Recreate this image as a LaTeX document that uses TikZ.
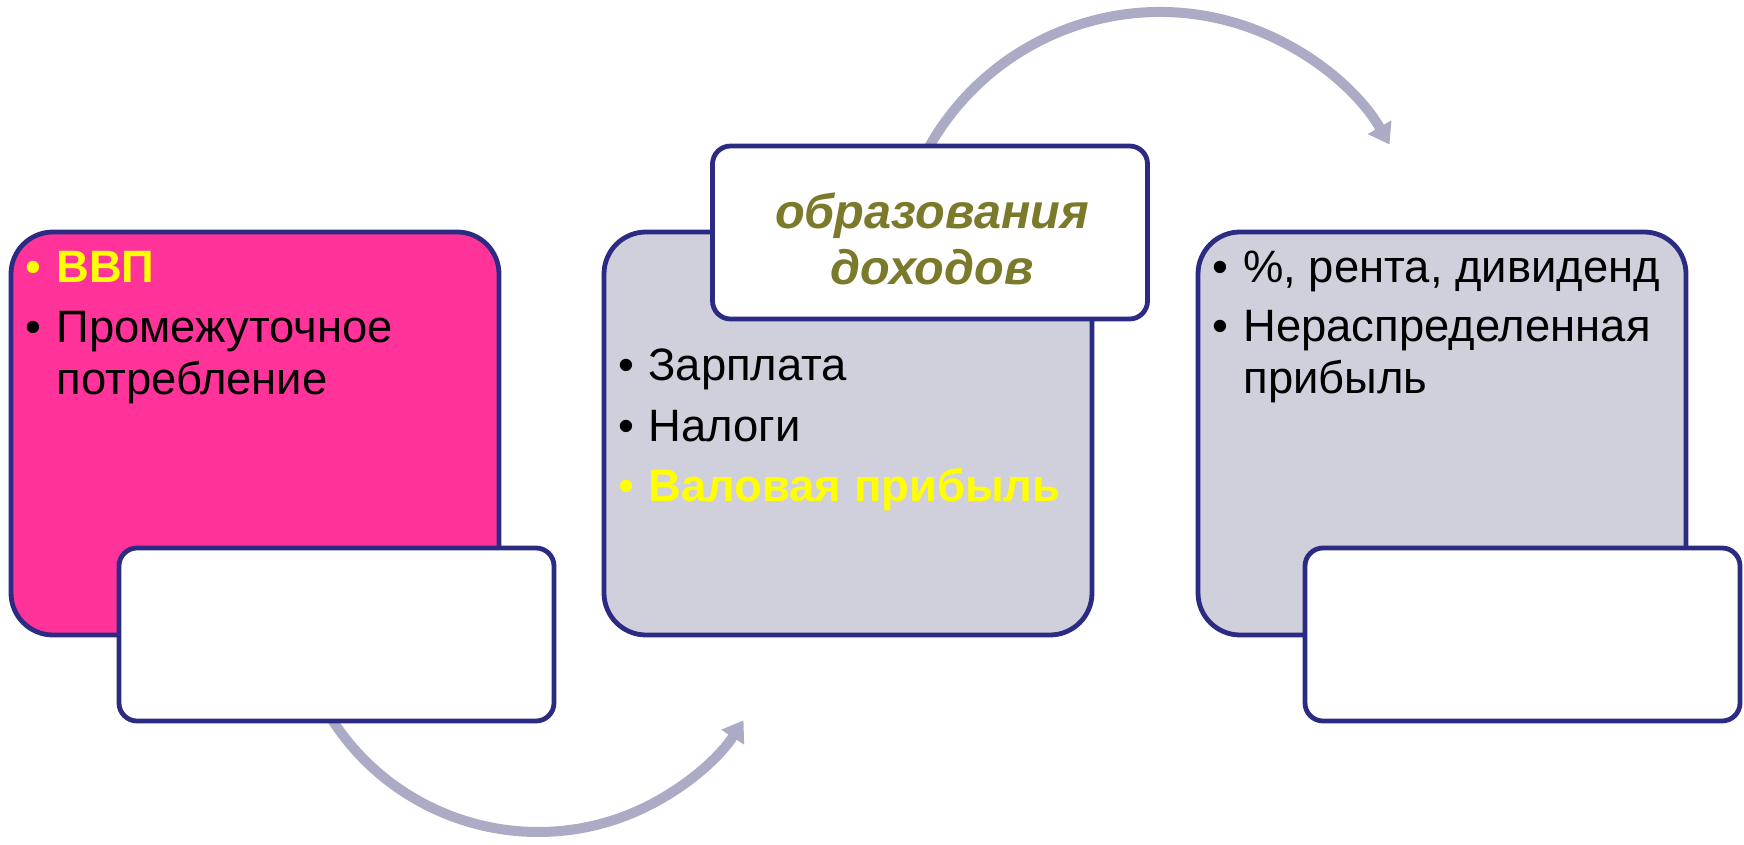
\documentclass[tikz,border=0pt]{standalone}
\usepackage{fontspec}
\setmainfont{Liberation Sans}
\usetikzlibrary{arrows.meta}

\definecolor{frame}{HTML}{2B2B83}
\definecolor{hotpink}{HTML}{FF3399}
\definecolor{panel}{HTML}{D0D0DC}
\definecolor{flowgray}{HTML}{ABABC5}
\definecolor{olive}{HTML}{7A7A2A}
\definecolor{hilite}{HTML}{FFFF00}

\tikzset{
  panelbox/.style={draw=frame, line width=2.4pt, rounded corners=21pt,
    minimum width=244pt, minimum height=201.5pt, inner sep=0pt},
  labelbox/.style={draw=frame, fill=white, line width=2.4pt, rounded corners=9pt,
    minimum width=217.5pt, minimum height=86.5pt, inner sep=0pt},
  flow/.style={draw=flowgray, line width=5pt, -{Triangle[width=13pt,length=10pt]}},
  itemtext/.style={anchor=base west, inner sep=0pt, font=\fontsize{22.7pt}{26pt}\selectfont},
  dot/.style={anchor=base, inner sep=0pt, font=\fontsize{22.7pt}{26pt}\selectfont},
  titletext/.style={anchor=base, inner sep=0pt, text=olive,
    font=\fontsize{24.3pt}{28pt}\selectfont\bfseries\itshape}
}

\begin{document}
\begin{tikzpicture}[x=0.5pt, y=0.5pt]
  \useasboundingbox (0,0) rectangle (1744,845);

  % curved arrows (behind the boxes)
  \coordinate (arcA) at (316,154.5);
  \coordinate (arcB) at (911,658.6);
  \draw[flow] (arcA) arc[start angle=205, end angle=327, radius=122.5pt];
  \draw[flow] (arcB) arc[start angle=160, end angle=30, radius=132.5pt];

  % panels
  \node[panelbox, fill=hotpink] (p1) at (255,411.5) {};
  \node[panelbox, fill=panel] (p2) at (848,411.5) {};
  \node[panelbox, fill=panel] (p3) at (1442,411.5) {};

  % white label boxes
  \node[labelbox] (w1) at (336.5,210.5) {};
  \node[labelbox] (w2) at (930,612.5) {};
  \node[labelbox] (w3) at (1522.5,210.5) {};

  % first panel
  \node[dot, text=hilite] (p1d1) at (33,562) {•};
  \node[itemtext, text=hilite, font=\fontsize{22.7pt}{26pt}\selectfont\bfseries] (p1t1) at (56,562) {ВВП};
  \node[dot] (p1d2) at (33,502) {•};
  \node[itemtext] (p1t2) at (56,502) {Промежуточное};
  \node[itemtext] (p1t3) at (56,450) {потребление};

  % second panel
  \node[titletext] (w2t1) at (932,616) {образования};
  \node[titletext] (w2t2) at (932,560) {доходов};
  \node[dot] (p2d1) at (626,464) {•};
  \node[itemtext] (p2t1) at (648,464) {Зарплата};
  \node[dot] (p2d2) at (626,403) {•};
  \node[itemtext] (p2t2) at (648,403) {Налоги};
  \node[dot, text=hilite] (p2d3) at (626,343.5) {•};
  \node[itemtext, text=hilite, font=\fontsize{22.7pt}{26pt}\selectfont\bfseries] (p2t3) at (648,343.5) {Валовая прибыль};

  % third panel
  \node[dot] (p3d1) at (1220,562) {•};
  \node[itemtext] (p3t1) at (1243,562) {\%, рента, дивиденд};
  \node[dot] (p3d2) at (1220,503) {•};
  \node[itemtext] (p3t2) at (1243,503) {Нераспределенная};
  \node[itemtext] (p3t3) at (1243,451) {прибыль};
\end{tikzpicture}
\end{document}
